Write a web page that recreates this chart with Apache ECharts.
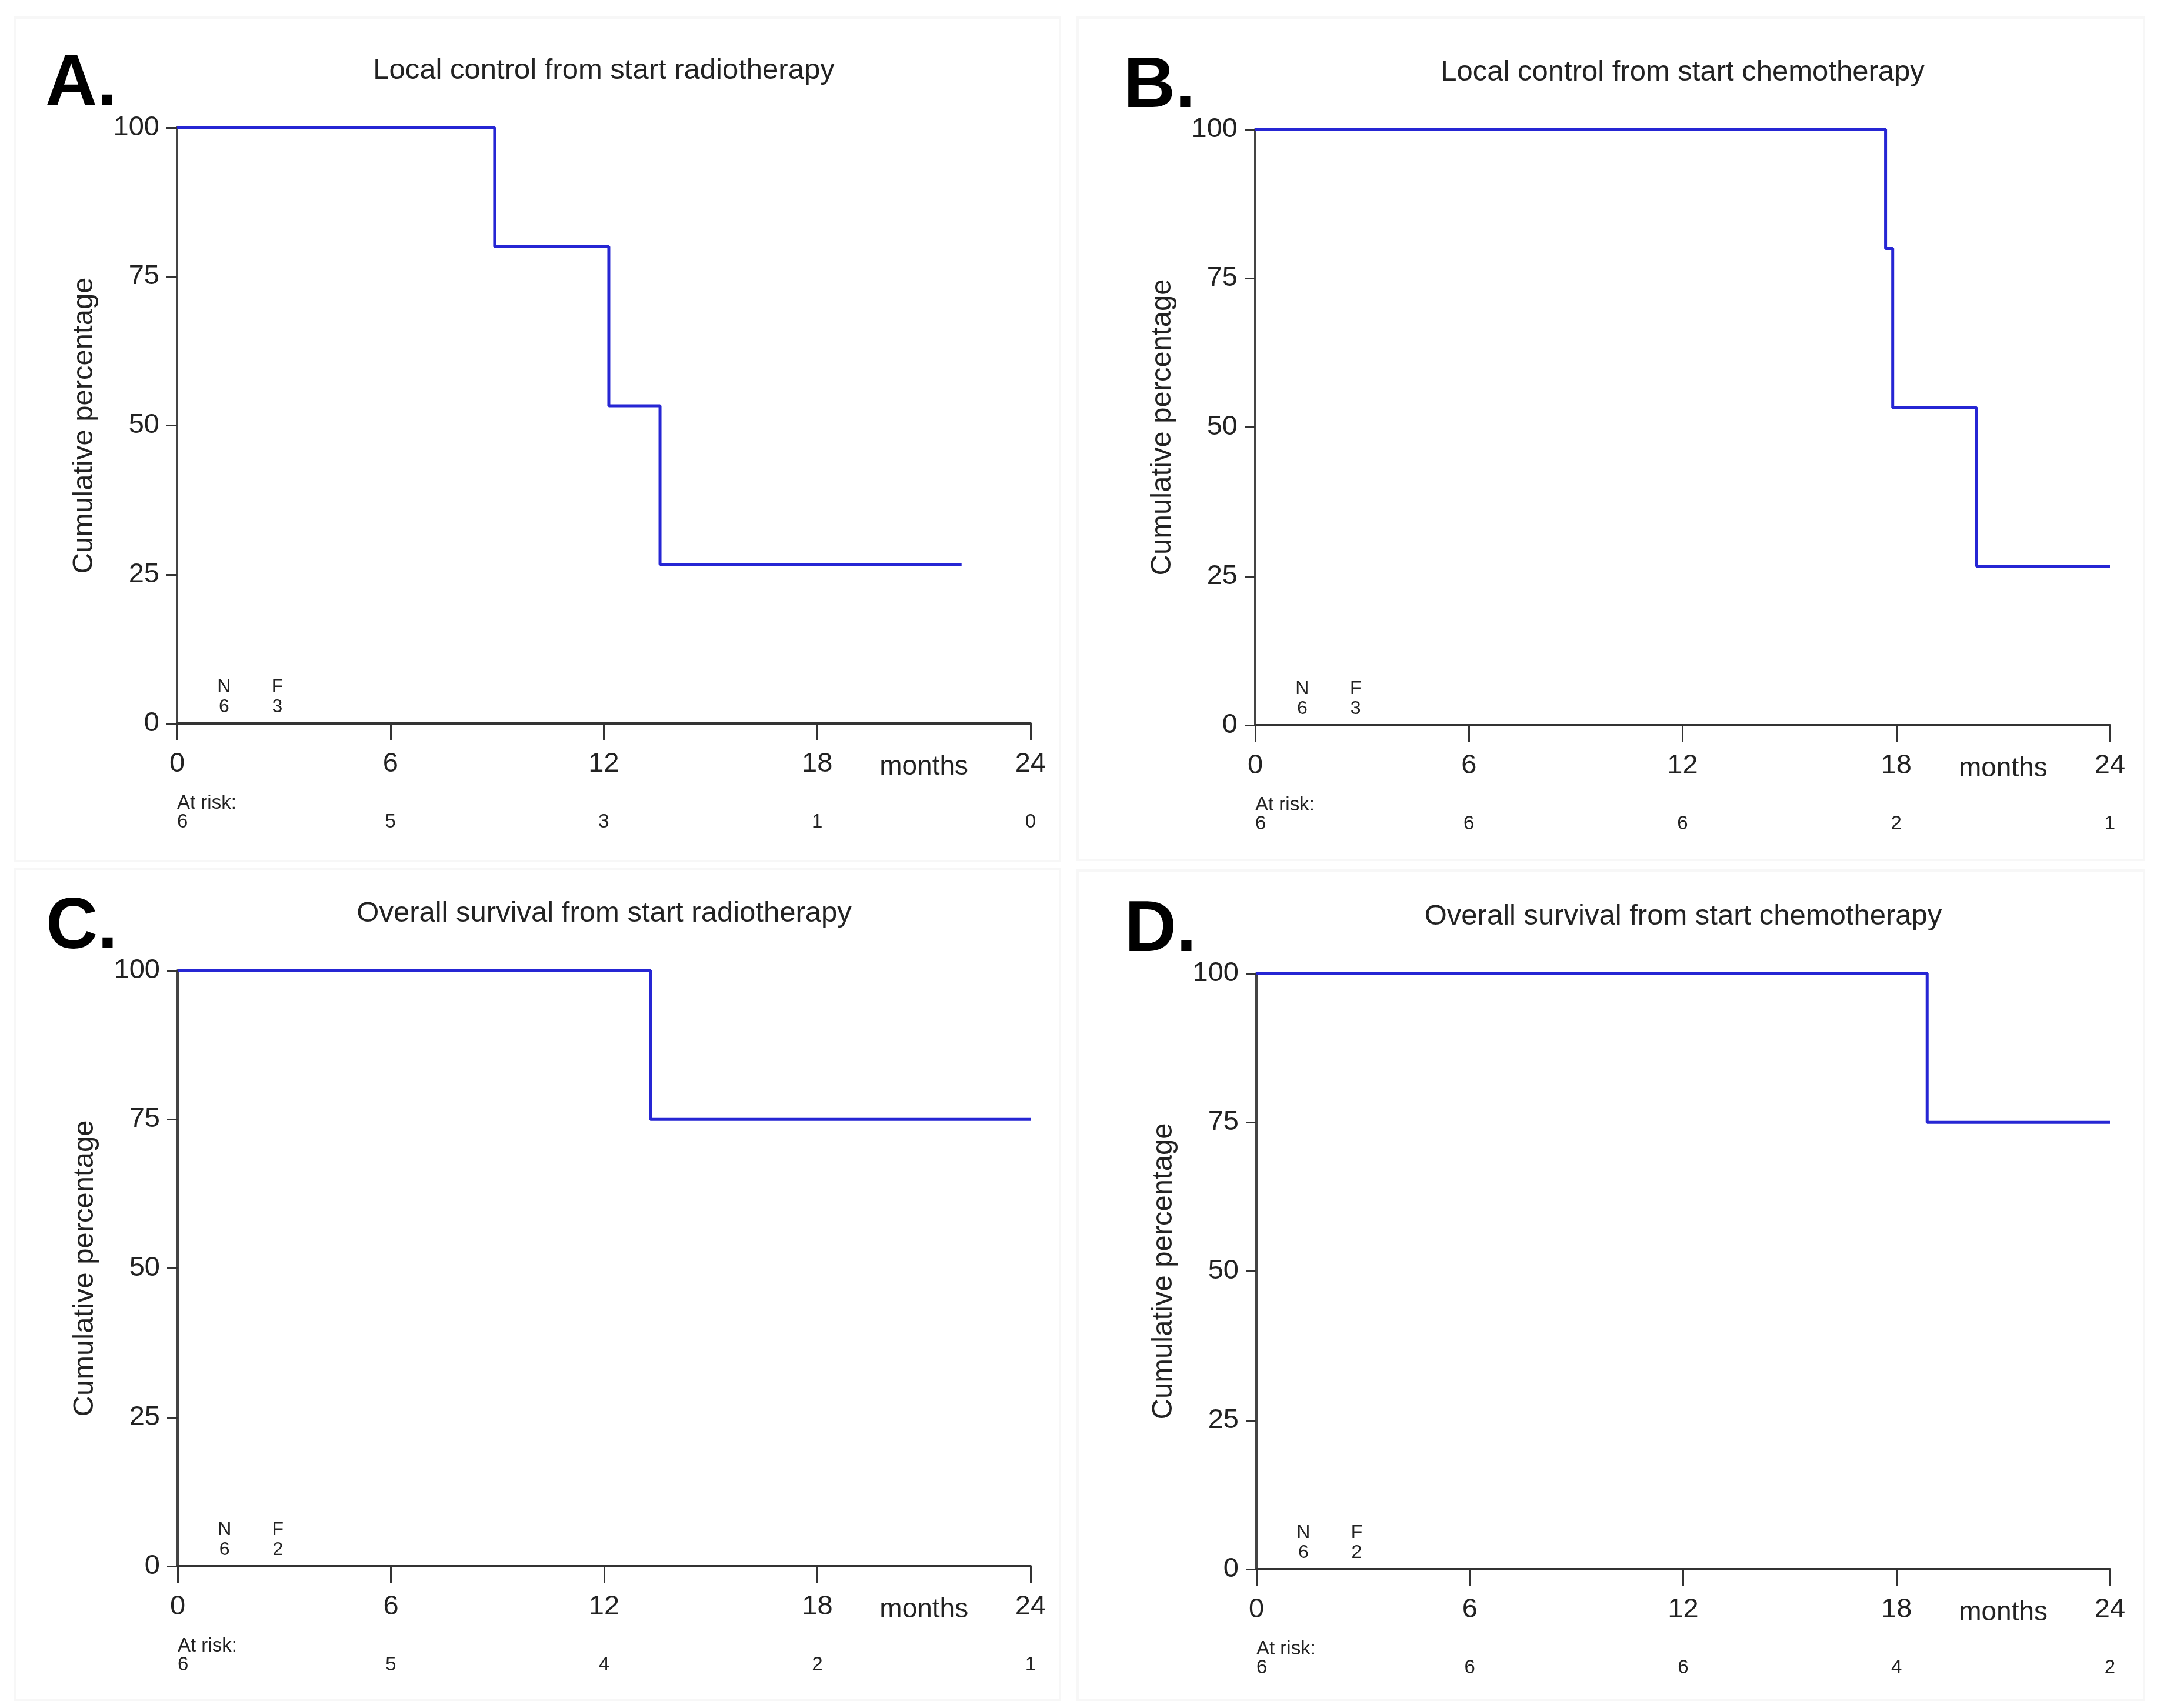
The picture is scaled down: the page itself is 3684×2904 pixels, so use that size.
<!DOCTYPE html>
<html>
<head>
<meta charset="utf-8">
<script src="https://cdn.jsdelivr.net/npm/echarts@6/dist/echarts.min.js"></script>
<style>
html,body{margin:0;padding:0;background:#fff;}
#main{width:3684px;height:2904px;}
</style>
</head>
<body>
<div id="main"></div>
<script>
// ---------- data ----------
const xTicks = [0, 6, 12, 18, 24];
const yTicks = [0, 25, 50, 75, 100];
const panelLabels = ['A.', 'B.', 'C.', 'D.'];
const panelTitles = [
  'Local control from start radiotherapy',
  'Local control from start chemotherapy',
  'Overall survival from start radiotherapy',
  'Overall survival from start chemotherapy'
];
const yAxisName = 'Cumulative percentage';
const xAxisName = 'months';
const atRiskTitle = 'At risk:';

const timesA = [0, 8.93, 12.14, 13.58, 22.06];
const survA  = [100, 80, 53.3, 26.7, 26.7];
const timesB = [0, 17.70, 17.90, 20.25, 24];
const survB  = [100, 80, 53.3, 26.7, 26.7];
const timesC = [0, 13.30, 24];
const survC  = [100, 75, 75];
const timesD = [0, 18.86, 24];
const survD  = [100, 75, 75];

const atRiskA = [6, 5, 3, 1, 0];
const atRiskB = [6, 6, 6, 2, 1];
const atRiskC = [6, 5, 4, 2, 1];
const atRiskD = [6, 6, 6, 4, 2];

const nTotal = [6, 6, 6, 6];
const nFailed = [3, 3, 2, 2];

// ---------- layout ----------
const FONT = "'Liberation Sans', Arial, sans-serif";
const grids = [
  {x0: 301, x1: 1752, y0: 217, y1: 1230},
  {x0: 2134, x1: 3587, y0: 220, y1: 1233},
  {x0: 302, x1: 1752, y0: 1650, y1: 2663},
  {x0: 2136, x1: 3587, y0: 1655, y1: 2668}
];
const boxes = [
  [26, 30, 1802, 1464],
  [1832, 30, 3645, 1462],
  [26, 1478, 1802, 2890],
  [1832, 1480, 3645, 2890]
];
const curves = [[timesA, survA], [timesB, survB], [timesC, survC], [timesD, survD]];
const atRisk = [atRiskA, atRiskB, atRiskC, atRiskD];

const chart = echarts.init(document.getElementById('main'), null, {renderer: 'canvas'});

const gridOpt = [], xOpt = [], yOpt = [], series = [];
grids.forEach((g, i) => {
  gridOpt.push({left: g.x0, top: g.y0, width: g.x1 - g.x0, height: g.y1 - g.y0, containLabel: false});
  xOpt.push({
    type: 'value', gridIndex: i, min: xTicks[0], max: xTicks[xTicks.length - 1], interval: 6,
    axisLine: {show: true, onZero: false, lineStyle: {color: '#333', width: 4}},
    axisTick: {show: true, length: 28, lineStyle: {color: '#333', width: 3}},
    axisLabel: {fontSize: 47, fontFamily: FONT, color: '#222', margin: 46},
    splitLine: {show: false}
  });
  yOpt.push({
    type: 'value', gridIndex: i, min: yTicks[0], max: yTicks[yTicks.length - 1], interval: 25,
    axisLine: {show: true, lineStyle: {color: '#444', width: 4}},
    axisTick: {show: true, length: 18, lineStyle: {color: '#333', width: 3}},
    axisLabel: {fontSize: 47, fontFamily: FONT, color: '#222', margin: 30},
    splitLine: {show: false}
  });
  const [t, s] = curves[i];
  series.push({
    type: 'line', xAxisIndex: i, yAxisIndex: i, step: 'end', symbol: 'none',
    data: t.map((v, k) => [v, s[k]]),
    lineStyle: {color: '#2626d4', width: 5},
    animation: false, z: 3
  });
});

chart.setOption({
  backgroundColor: '#fff',
  animation: false,
  grid: gridOpt, xAxis: xOpt, yAxis: yOpt, series: series
});

// ---------- annotations ----------
const graphics = [];
function txt(x, y, text, size, opts) {
  opts = opts || {};
  graphics.push({
    type: 'text', x: x, y: y, rotation: opts.rotation || 0, z: 10,
    style: {
      text: text, fontSize: size, fontFamily: FONT, fontWeight: opts.weight || 'normal',
      fill: opts.fill || '#222', align: opts.align || 'center', verticalAlign: opts.va || 'middle'
    }
  });
}
boxes.forEach(b => {
  graphics.push({type: 'rect', z: 0, shape: {x: b[0], y: b[1], width: b[2] - b[0], height: b[3] - b[1]},
    style: {fill: 'none', stroke: '#f7f7f7', lineWidth: 4}});
});
grids.forEach((g, i) => {
  const P = (x, y) => chart.convertToPixel({xAxisIndex: i, yAxisIndex: i}, [x, y]);
  txt(g.x0 - 224, g.y0 - 72, panelLabels[i], 122, {weight: 'bold', fill: '#000', align: 'left'});
  txt((g.x0 + g.x1) / 2, g.y0 - 97, panelTitles[i], 49);
  txt(g.x0 - 158, (g.y0 + g.y1) / 2, yAxisName, 49, {rotation: Math.PI / 2});
  const pm = P(21, 0);
  txt(pm[0], g.y1 + 74, xAxisName, 46);
  txt(g.x0, g.y1 + 136, atRiskTitle, 33, {align: 'left'});
  xTicks.forEach((tv, k) => {
    const p = P(tv, 0);
    if (k === 0) txt(p[0], g.y1 + 168, String(atRisk[i][k]), 33, {align: 'left'});
    else txt(p[0], g.y1 + 168, String(atRisk[i][k]), 33);
  });
  const pN = P(1.32, 6.1), pN2 = P(1.32, 2.7);
  const pF = P(2.82, 6.1), pF2 = P(2.82, 2.7);
  txt(pN[0], pN[1], 'N', 32);
  txt(pN2[0], pN2[1], String(nTotal[i]), 32);
  txt(pF[0], pF[1], 'F', 32);
  txt(pF2[0], pF2[1], String(nFailed[i]), 32);
});
chart.setOption({graphic: graphics});
</script>
</body>
</html>
